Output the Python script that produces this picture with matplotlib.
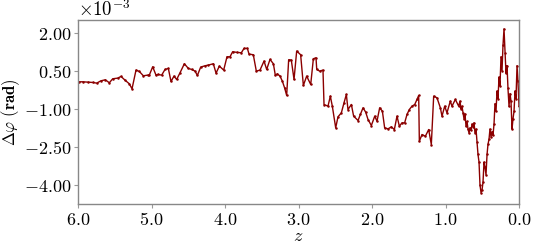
import matplotlib
matplotlib.use("Agg")
import matplotlib.pyplot as plt
from matplotlib.ticker import FixedLocator, FuncFormatter

plt.rcParams['mathtext.fontset'] = 'cm'
plt.rcParams['font.family'] = ['DejaVu Serif']

# redshift z and phase difference (units of 1e-3 rad)
z = [5.991, 5.936, 5.868, 5.800, 5.746, 5.687, 5.628, 5.574, 5.528, 5.460,
     5.415, 5.356, 5.302, 5.265, 5.211, 5.166, 5.111, 5.052, 5.030, 4.984,
     4.939, 4.912, 4.862, 4.816, 4.771, 4.735, 4.694, 4.658, 4.612, 4.553,
     4.499, 4.454, 4.408, 4.376, 4.331, 4.272, 4.227, 4.159, 4.122, 4.077,
     4.018, 3.973, 3.932, 3.896, 3.837, 3.778, 3.741, 3.696, 3.673, 3.615,
     3.574, 3.524, 3.469, 3.433, 3.388, 3.342, 3.315, 3.288, 3.252, 3.220,
     3.188, 3.161, 3.134, 3.098, 3.061, 3.025, 2.971, 2.934, 2.889, 2.834,
     2.798, 2.762, 2.752, 2.712, 2.667, 2.653, 2.599, 2.567, 2.540, 2.494,
     2.463, 2.417, 2.381, 2.349, 2.327, 2.281, 2.250, 2.190, 2.159, 2.122,
     2.086, 2.054, 2.009, 1.963, 1.932, 1.896, 1.859, 1.828, 1.782, 1.737,
     1.696, 1.660, 1.628, 1.592, 1.556, 1.524, 1.492, 1.456, 1.419, 1.388,
     1.365, 1.356, 1.320, 1.274, 1.229, 1.193, 1.161, 1.116, 1.070, 1.048,
     1.011, 0.980, 0.935, 0.912, 0.866, 0.821,
     0.803, 0.789, 0.776, 0.762, 0.748, 0.735, 0.721, 0.707, 0.694, 0.680,
     0.667, 0.653, 0.639, 0.626, 0.612, 0.599, 0.585, 0.571, 0.558, 0.544,
     0.531, 0.517, 0.503, 0.490, 0.476, 0.463, 0.449, 0.435, 0.422, 0.408,
     0.395, 0.381, 0.367, 0.354, 0.340, 0.327, 0.313, 0.299, 0.286, 0.272,
     0.259, 0.245, 0.231, 0.218, 0.204, 0.190, 0.177, 0.163, 0.150, 0.136,
     0.122, 0.109, 0.095, 0.082, 0.068, 0.054, 0.041, 0.027, 0.014, 0.000]
dphi = [0.064, 0.064, 0.051, 0.038, 0.012, 0.104, 0.143, 0.025, 0.183, 0.209,
        0.275, 0.117, -0.015, -0.212, 0.525, 0.472, 0.301, 0.327, 0.327, 0.656,
        0.327, 0.354, 0.327, 0.551, 0.591, 0.077, 0.288, 0.156, 0.420, 0.775,
        0.591, 0.551, 0.485, 0.314, 0.643, 0.696, 0.722, 0.775, 0.406, 0.683,
        0.525, 1.051, 1.051, 1.249, 1.222, 1.209, 1.380, 1.380, 1.156, 1.130,
        0.485, 0.525, 0.880, 0.551, 0.946, 0.775, 0.314, 0.380, 0.288, 0.090,
        -0.186, -0.475, 0.933, 0.920, 0.156, 1.275, 1.130, -0.081, 0.288, -0.041,
        0.972, 1.012, 0.551, 0.485, 0.525, -0.831, -0.897, -0.502, -0.897, -1.752,
        -1.317, -1.159, -0.765, -0.436, -1.028, -0.831, -1.291, -1.462, -1.225, -0.962,
        -1.133, -1.423, -1.660, -1.291, -1.489, -0.962, -1.094, -1.752, -1.791, -1.712,
        -1.818, -1.291, -1.686, -1.554, -1.554, -1.225, -1.028, -0.897, -0.831, -0.633,
        -0.475, -2.278, -2.015, -2.081, -1.818, -2.410, -0.502, -0.567, -0.962, -1.291,
        -0.897, -1.159, -0.699, -0.897, -0.633, -0.897,
        -0.70, -1.00, -0.90, -1.16, -1.40, -1.20, -1.69, -1.50, -1.80, -1.95,
        -1.75, -1.85, -1.60, -1.70, -1.55, -1.95, -1.80, -2.30, -2.80, -3.10,
        -4.00, -4.30, -4.20, -3.90, -3.10, -3.30, -3.60, -2.80, -2.40, -2.20,
        -1.80, -2.10, -1.90, -2.05, -1.60, -0.80, -1.10, -0.30, -0.60, 0.25,
        -0.10, 1.05, 0.50, 1.50, 2.15, 1.20, 0.40, 0.70, -0.20, -0.90,
        -0.40, -0.70, -1.80, -1.40, -1.10, -0.30, -0.60, 0.70, 0.10, -0.90]

yticks = [2.00, 0.50, -1.00, -2.50, -4.00]
xticks = [6.0, 5.0, 4.0, 3.0, 2.0, 1.0, 0.0]

fig = plt.figure(figsize=(5.38, 2.49), dpi=100)
ax = fig.add_axes([0.145, 0.181, 0.8197, 0.7387])

ax.plot(z, dphi, color='#8b0000', lw=1.0, marker='o', ms=1.8, mew=0)

ax.set_xlim(6.0, 0.0)
ax.set_ylim(-4.75, 2.5)

ax.xaxis.set_major_locator(FixedLocator(xticks))
ax.yaxis.set_major_locator(FixedLocator(yticks))

def fmt_y(v, pos):
    s = '%.2f' % abs(v)
    return (r'$-\mathbf{%s}$' % s) if v < 0 else (r'$\mathbf{%s}$' % s)

def fmt_x(v, pos):
    return r'$\mathbf{%.1f}$' % abs(v)

ax.yaxis.set_major_formatter(FuncFormatter(fmt_y))
ax.xaxis.set_major_formatter(FuncFormatter(fmt_x))

ax.tick_params(axis='both', which='major', labelsize=13, length=3,
               width=0.8, color='#999999', pad=2)

for sp in ax.spines.values():
    sp.set_color('#888888')
    sp.set_linewidth(1.0)

ax.set_xlabel(r'$z$', fontsize=13, labelpad=-1)
ax.set_ylabel(r'$\mathbf{\Delta}\varphi\ \mathbf{(rad)}$', fontsize=12)
ax.yaxis.set_label_coords(-0.128, 0.5)

ax.text(0.0, 1.0, r'$\times10^{-3}$', transform=ax.transAxes,
        ha='left', va='bottom', fontsize=13.5)

fig.savefig('out.png', dpi=100)
